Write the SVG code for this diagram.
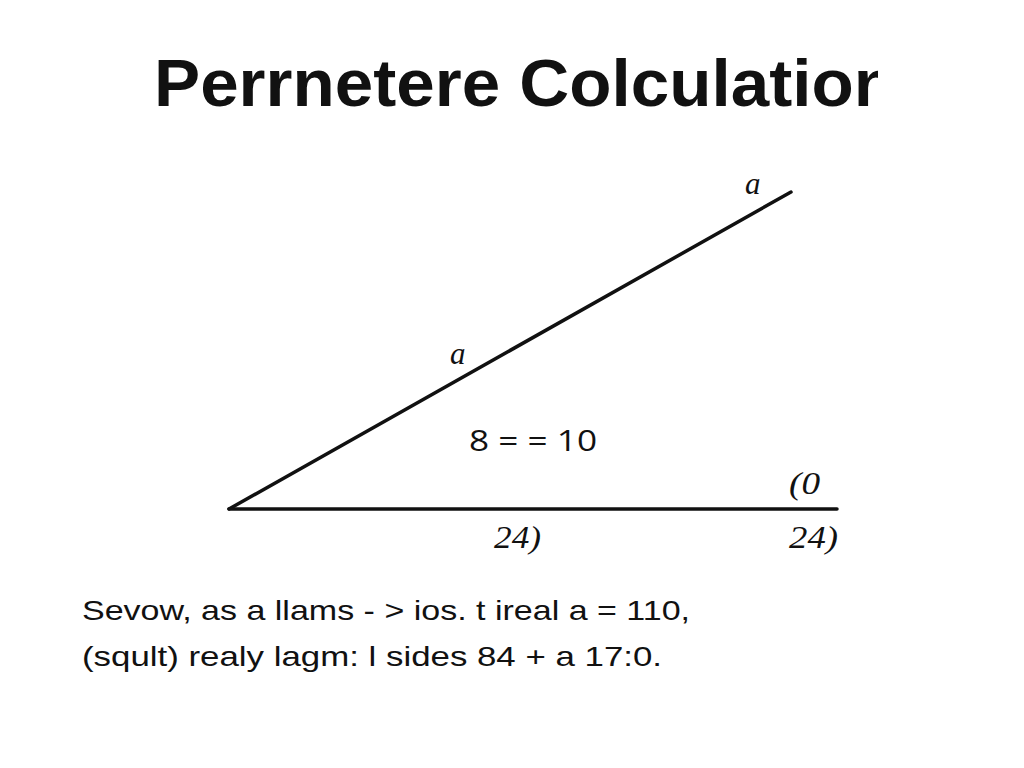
<svg xmlns="http://www.w3.org/2000/svg" width="1024" height="768" viewBox="0 0 1024 768">
<style>
.title{font-family:"Liberation Sans",Arial,sans-serif;font-weight:bold;font-size:66px;fill:#111}
.lab{font-family:"Liberation Serif","Times New Roman",serif;font-style:italic;font-size:31px;fill:#111}
.eq{font-family:"Open Sans","Liberation Sans",sans-serif;font-size:29px;fill:#111}
.body{font-family:"Liberation Sans",Arial,sans-serif;font-size:28px;fill:#111}
.edge{stroke:#111;stroke-width:3.5;fill:none;stroke-linecap:round}
</style>
<defs>
<clipPath id="tclip"><rect x="0" y="0" width="878" height="768"/></clipPath>
</defs>
<rect width="1024" height="768" fill="#fff"/>
<g id="title" clip-path="url(#tclip)">
<text class="title" x="154" y="106" textLength="742" lengthAdjust="spacingAndGlyphs">Perrnetere Colculation</text>
</g>
<g id="connectors">
<line class="edge" x1="229" y1="509" x2="791" y2="192"/>
<line class="edge" x1="229" y1="509" x2="837" y2="509"/>
</g>
<g id="labels">
<text class="lab" x="745" y="194">a</text>
<text class="lab" x="450" y="364">a</text>
<text class="eq" x="469" y="451" textLength="128" lengthAdjust="spacingAndGlyphs">8 = = 10</text>
<text class="lab" x="789" y="494" textLength="31" lengthAdjust="spacingAndGlyphs">(0</text>
<text class="lab" x="494" y="548" textLength="47" lengthAdjust="spacingAndGlyphs">24)</text>
<text class="lab" x="789" y="548" textLength="49" lengthAdjust="spacingAndGlyphs">24)</text>
</g>
<g id="caption">
<text class="body" x="82" y="620" textLength="608" lengthAdjust="spacingAndGlyphs">Sevow, as a llams - &gt; ios. t ireal a = 110,</text>
<text class="body" x="82" y="666" textLength="580" lengthAdjust="spacingAndGlyphs">(sqult) realy lagm: l sides 84 + a 17:0.</text>
</g>
</svg>
